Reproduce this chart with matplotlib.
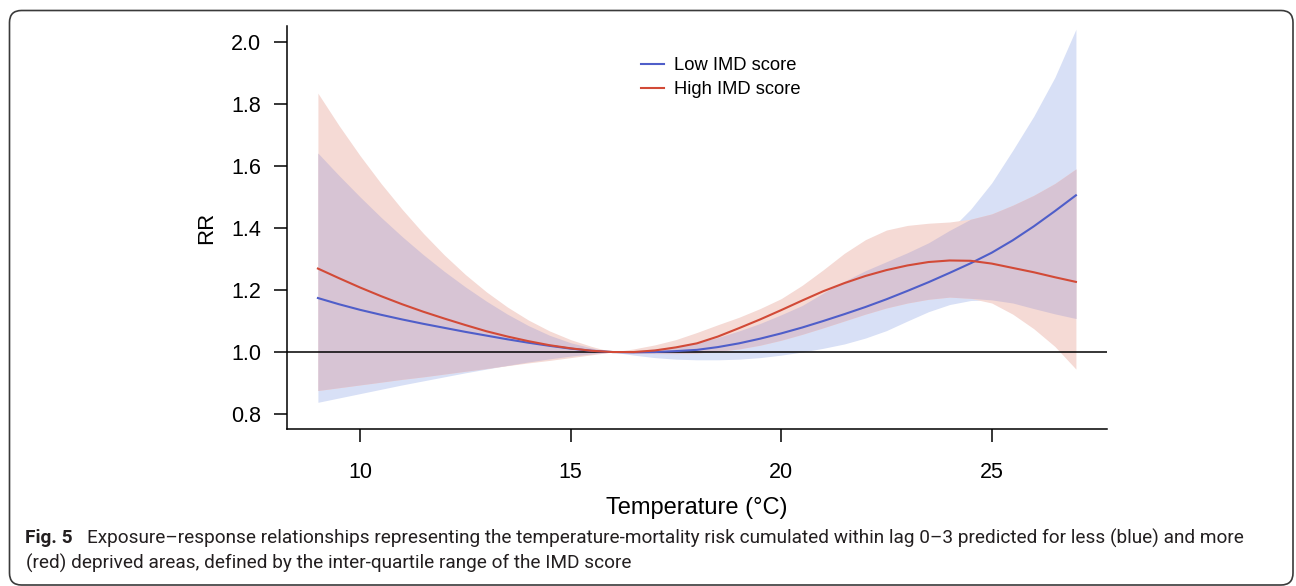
import numpy as np
import matplotlib
matplotlib.use("Agg")
import matplotlib.pyplot as plt
from matplotlib.patches import FancyBboxPatch
from matplotlib.transforms import IdentityTransform

# ---------------- data ----------------
temp = [9.0, 9.5, 10.0, 10.5, 11.0, 11.5, 12.0, 12.5, 13.0, 13.5, 14.0, 14.5, 15.0, 15.5,
        16.0, 16.5, 17.0, 17.5, 18.0, 18.5, 19.0, 19.5, 20.0, 20.5, 21.0, 21.5, 22.0, 22.5,
        23.0, 23.5, 24.0, 24.5, 25.0, 25.5, 26.0, 26.5, 27.0]

low_rr = [1.174, 1.154, 1.136, 1.120, 1.105, 1.091, 1.078, 1.065, 1.053, 1.041, 1.030, 1.020,
          1.011, 1.004, 1.000, 0.999, 1.000, 1.003, 1.007, 1.016, 1.028, 1.043, 1.060, 1.079,
          1.100, 1.122, 1.145, 1.170, 1.197, 1.225, 1.255, 1.286, 1.320, 1.360, 1.405, 1.454, 1.505]
low_hi = [1.641, 1.569, 1.500, 1.434, 1.372, 1.314, 1.260, 1.210, 1.164, 1.122, 1.085, 1.054,
          1.030, 1.013, 1.000, 1.004, 1.010, 1.018, 1.030, 1.047, 1.068, 1.092, 1.120, 1.150,
          1.190, 1.228, 1.262, 1.291, 1.320, 1.352, 1.392, 1.460, 1.545, 1.650, 1.760, 1.885, 2.040]
low_lo = [0.838, 0.852, 0.866, 0.880, 0.894, 0.907, 0.920, 0.933, 0.945, 0.957, 0.968, 0.978,
          0.987, 0.994, 1.000, 0.990, 0.982, 0.977, 0.975, 0.975, 0.977, 0.982, 0.990, 1.000,
          1.012, 1.026, 1.045, 1.069, 1.100, 1.130, 1.153, 1.166, 1.168, 1.158, 1.140, 1.123, 1.108]

high_rr = [1.269, 1.238, 1.208, 1.180, 1.154, 1.130, 1.108, 1.087, 1.067, 1.050, 1.035, 1.022,
           1.012, 1.004, 1.000, 1.000, 1.005, 1.015, 1.028, 1.050, 1.077, 1.105, 1.135, 1.166,
           1.196, 1.222, 1.245, 1.264, 1.279, 1.290, 1.295, 1.294, 1.285, 1.271, 1.257, 1.241, 1.226]
high_hi = [1.834, 1.730, 1.633, 1.543, 1.460, 1.383, 1.313, 1.250, 1.194, 1.145, 1.103, 1.068,
           1.040, 1.018, 1.000, 1.010, 1.023, 1.040, 1.063, 1.088, 1.112, 1.140, 1.172, 1.215,
           1.265, 1.318, 1.362, 1.393, 1.408, 1.415, 1.419, 1.428, 1.445, 1.473, 1.505, 1.543, 1.590]
high_lo = [0.876, 0.885, 0.894, 0.903, 0.912, 0.920, 0.929, 0.938, 0.947, 0.956, 0.965, 0.973,
           0.982, 0.991, 1.000, 0.997, 0.995, 0.995, 0.997, 1.002, 1.010, 1.022, 1.038, 1.057,
           1.078, 1.100, 1.122, 1.142, 1.158, 1.170, 1.177, 1.173, 1.158, 1.122, 1.075, 1.018, 0.945]

x_ticks = [10, 15, 20, 25]
y_ticks = [0.8, 1.0, 1.2, 1.4, 1.6, 1.8, 2.0]
series_labels = ["Low IMD score", "High IMD score"]

caption_bold = "Fig. 5"
caption_line1 = ("Exposure\u2013response relationships representing the temperature-mortality risk "
                 "cumulated within lag 0\u20133 predicted for less (blue) and more")
caption_line2 = "(red) deprived areas, defined by the inter-quartile range of the IMD score"

# ---------------- figure ----------------
W, H = 1296, 586
fig = plt.figure(figsize=(W / 100, H / 100), dpi=100)
plt.rcParams['font.family'] = ['Liberation Sans', 'DejaVu Sans']

# rounded border, in pixel coordinates (origin bottom-left)
box = FancyBboxPatch((9.5, 1.0), 1293 - 9.5, (H - 10.5) - 1.0,
                     boxstyle="round,pad=0,rounding_size=12",
                     transform=IdentityTransform(), fill=False, edgecolor="#3a3a3a",
                     linewidth=1.2, clip_on=False)
fig.patches.append(box)

ax = fig.add_axes([287 / W, 1 - 429 / H, (1107 - 287) / W, (429 - 26) / H])

t = np.array(temp)
lh, ll = np.array(low_hi), np.array(low_lo)
hh, hl = np.array(high_hi), np.array(high_lo)

c_blue_f = "#d8e0f6"
c_red_f = "#f5dad5"
c_mix_f = "#d7c4d4"
ax.fill_between(t, ll, lh, color=c_blue_f, lw=0, zorder=1)
ax.fill_between(t, hl, hh, color=c_red_f, lw=0, zorder=1.1)
ov_lo = np.maximum(ll, hl)
ov_hi = np.minimum(lh, hh)
ax.fill_between(t, ov_lo, ov_hi, where=ov_hi >= ov_lo, interpolate=True,
                color=c_mix_f, lw=0, zorder=1.2)

ax.axhline(1.0, color="black", lw=1.1, zorder=2)
ax.plot(t, low_rr, color="#4f5ec9", lw=1.5, zorder=3, label=series_labels[0])
ax.plot(t, high_rr, color="#d24a37", lw=1.5, zorder=3, label=series_labels[1])

ax.set_xlim(8.266, 27.738)
ax.set_ylim(0.752, 2.0505)
ax.set_xticks(x_ticks)
ax.set_yticks(y_ticks)
ax.set_xticklabels([str(v) for v in x_ticks])
ax.set_yticklabels([f"{v:.1f}" for v in y_ticks])
for s in ["top", "right"]:
    ax.spines[s].set_visible(False)
for s in ["left", "bottom"]:
    ax.spines[s].set_linewidth(1.1)
ax.tick_params(axis="both", direction="out", length=9.5, width=1.1, labelsize=15.5,
               colors="black")
ax.tick_params(axis="x", pad=14)
ax.tick_params(axis="y", pad=9)

ax.set_xlabel("Temperature (\u00b0C)", fontsize=17, labelpad=10.5)
ax.set_ylabel("RR", fontsize=16, labelpad=10)

leg = ax.legend(loc="upper left", bbox_to_anchor=(641 / W, 1 - 57 / H),
                bbox_transform=fig.transFigure, frameon=False, fontsize=13.2,
                handlelength=1.25, handletextpad=0.55, labelspacing=0.38,
                borderpad=0, borderaxespad=0)

# caption
cap_font = ["Roboto", "DejaVu Sans"]
cap_size = 13.7
fig.text(25 / W, 1 - 538 / H, caption_bold, fontsize=cap_size, fontweight="bold",
         family=cap_font, color="#231f20", va="center", ha="left")
fig.text(87 / W, 1 - 538 / H, caption_line1, fontsize=cap_size,
         family=cap_font, color="#231f20", va="center", ha="left")
fig.text(26 / W, 1 - 563 / H, caption_line2, fontsize=cap_size,
         family=cap_font, color="#231f20", va="center", ha="left")

fig.savefig("out.png", dpi=100)
